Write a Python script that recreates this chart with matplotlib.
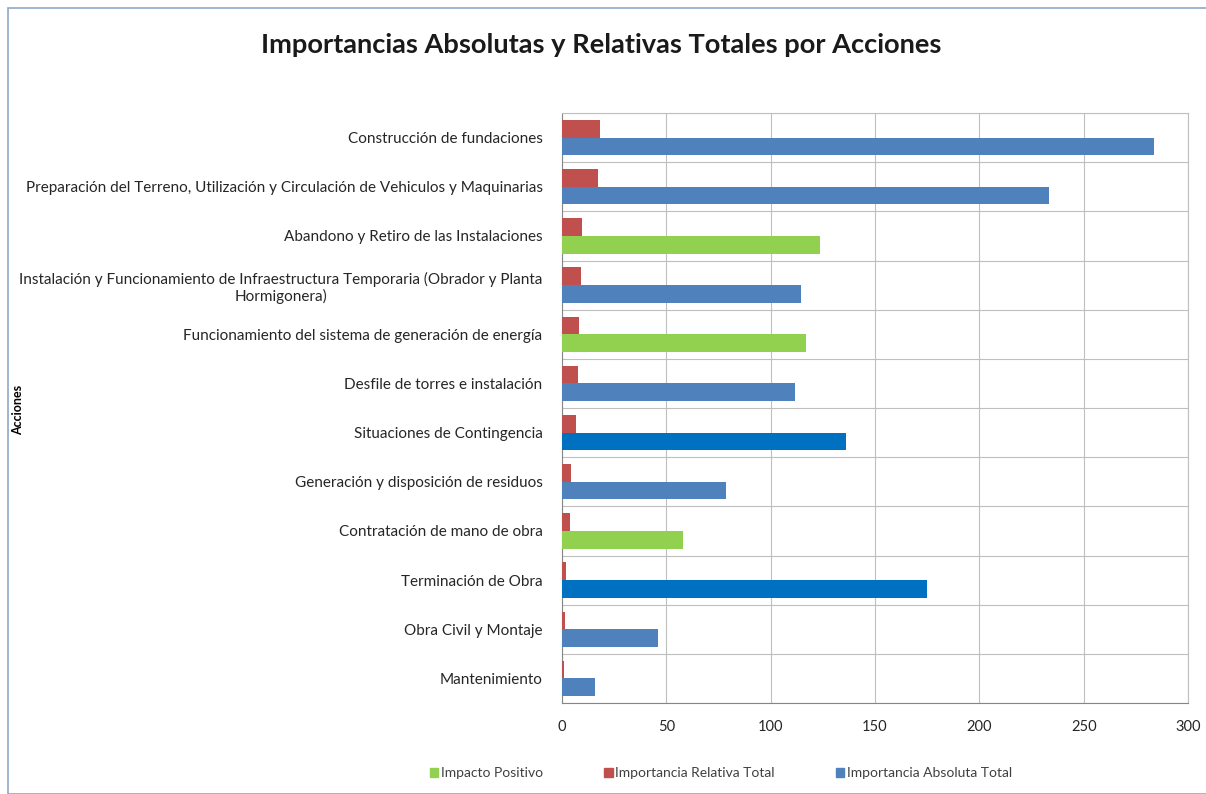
import numpy as np
import matplotlib.pyplot as plt
from matplotlib.patches import Patch, Rectangle

plt.rcParams['font.family'] = ['Lato', 'DejaVu Sans']

acciones = [
    "Construcción de fundaciones",
    "Preparación del Terreno, Utilización y Circulación de Vehiculos y Maquinarias",
    "Abandono y Retiro de las Instalaciones",
    "Instalación y Funcionamiento de Infraestructura Temporaria (Obrador y Planta\nHormigonera)",
    "Funcionamiento del sistema de generación de energía",
    "Desfile de torres e instalación",
    "Situaciones de Contingencia",
    "Generación y disposición de residuos",
    "Contratación de mano de obra",
    "Terminación de Obra",
    "Obra Civil y Montaje",
    "Mantenimiento",
]
imp_absoluta = [283.6, 233.5, 123.6, 114.6, 117, 111.6, 136, 78.6, 57.9, 174.8, 46, 15.6]
imp_relativa = [18.4, 17.4, 9.7, 8.9, 8.1, 7.9, 6.9, 4.3, 4.0, 1.8, 1.6, 1.0]
# tipo de barra absoluta: 'pos' = impacto positivo, 'dark' = azul oscuro, 'abs' = normal
tipo = ['abs', 'abs', 'pos', 'abs', 'pos', 'abs', 'dark', 'abs', 'pos', 'dark', 'abs', 'abs']

c_abs = '#4F81BD'
c_dark = '#0070C0'
c_rel = '#C0504D'
c_pos = '#92D050'
colores = {'abs': c_abs, 'dark': c_dark, 'pos': c_pos}

fig = plt.figure(figsize=(12.06, 7.94), dpi=100)
ax = fig.add_axes([562 / 1206, 1 - 703 / 794, (1188 - 562) / 1206, (703 - 113) / 794])

y = np.arange(len(acciones))
h = 0.36
ax.barh(y - h / 2, imp_relativa, height=h, color=c_rel, zorder=3)
ax.barh(y + h / 2, imp_absoluta, height=h, color=[colores[t] for t in tipo], zorder=3)

ax.set_ylim(len(acciones) - 0.5, -0.5)
ax.set_xlim(0, 300)
ax.set_xticks(np.arange(0, 301, 50))
ax.set_yticks(y)
ax.set_yticklabels(acciones, fontsize=11, color='#262626', multialignment='center')
ax.set_yticks(np.arange(len(acciones) + 1) - 0.5, minor=True)
ax.tick_params(axis='y', which='major', length=0, pad=14)
ax.tick_params(axis='y', which='minor', length=0)
ax.tick_params(axis='x', length=0, pad=12, labelsize=10.5, labelcolor='#262626')
ax.grid(True, which='minor', axis='y', color='#BFBFBF', lw=0.8, zorder=0)
ax.grid(True, which='major', axis='x', color='#BFBFBF', lw=0.8, zorder=0)
for s in ['top', 'right']:
    ax.spines[s].set_color('#BFBFBF')
    ax.spines[s].set_linewidth(0.8)
for s in ['left', 'bottom']:
    ax.spines[s].set_color('#868686')
    ax.spines[s].set_linewidth(0.8)

fig.text(18 / 1206, 1 - 410 / 794, "Acciones", rotation=90, fontsize=9, fontweight='bold',
         ha='center', va='center')
fig.text(601 / 1206, 1 - 45 / 794, "Importancias Absolutas y Relativas Totales por Acciones",
         fontsize=19.6, fontweight='bold', ha='center', va='center', color='#1a1a1a')

handles = [Patch(color=c_pos, label='Impacto Positivo'),
           Patch(color=c_rel, label='Importancia Relativa Total'),
           Patch(color=c_abs, label='Importancia Absoluta Total')]
fig.legend(handles=handles, loc='center', bbox_to_anchor=(721 / 1206, 1 - 773 / 794), ncol=3,
           frameon=False, fontsize=10, handlelength=0.6, handleheight=0.6,
           handletextpad=0.2, columnspacing=4.4, labelcolor='#404040')

fig.patches.append(Rectangle((8 / 1206, 0), 1, 1 - 8 / 794, transform=fig.transFigure,
                             fill=False, edgecolor='#8EA9C8', lw=1.2))

fig.savefig('out.png', dpi=100)
